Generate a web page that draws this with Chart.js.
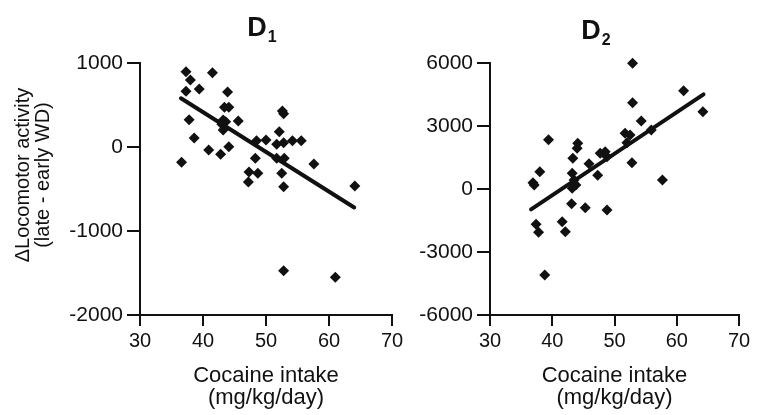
<!DOCTYPE html>
<html>
<head>
<meta charset="utf-8">
<script src="https://cdn.jsdelivr.net/npm/chart.js@4.4.1/dist/chart.umd.min.js"></script>
<style>
  body { margin: 0; background: #fff; }
  #wrap { position: relative; width: 757px; height: 415px; font-family: "Liberation Sans", Arial, sans-serif; color: #111; }
  .box { position: absolute; top: 0; height: 415px; }
  .title { position: absolute; top: 14px; width: 80px; margin-left: -40px; text-align: center; font-weight: bold; font-size: 27px; line-height: 1; }
  .title sub { font-size: 16px; vertical-align: baseline; position: relative; top: 6px; margin-left: 1px; }
  .ytitle { position: absolute; left: 12px; top: 175px; width: 0; height: 0; }
  .ytitle div { position: absolute; transform: translate(-50%, -50%) rotate(-90deg); white-space: nowrap; font-size: 20px; line-height: 20px; text-align: center; }
</style>
</head>
<body>
<div id="wrap">
  <div class="box" style="left:0;width:410px"><canvas id="d1"></canvas></div>
  <div class="box" style="left:410px;width:347px"><canvas id="d2"></canvas></div>
  <div class="title" style="left:262px">D<sub>1</sub></div>
  <div class="title" style="left:596px;top:17px">D<sub>2</sub></div>
  <div class="ytitle" style="left:22px"><div>&Delta;Locomotor activity</div></div>
  <div class="ytitle" style="left:42px"><div>(late - early WD)</div></div>
</div>
<script>
const xTitle = ["Cocaine intake", "(mg/kg/day)"];

// D1 panel: cocaine intake (x) vs change in locomotor activity (y)
const d1Intake = [37.3, 38.0, 37.3, 39.4, 41.5, 43.9, 43.4, 44.1, 43.2, 43.6, 43.0, 43.2, 45.6, 37.8, 38.6, 36.6, 40.9, 42.8, 44.1,
  52.6, 52.8, 52.1, 48.5, 50.0, 51.7, 52.8, 54.2, 55.6, 48.3, 51.7, 52.9, 47.3, 48.7, 47.2, 52.5, 52.8, 57.6, 64.1, 52.8, 61.0];
const d1Activity = [896, 798, 663, 690, 885, 655, 473, 473, 320, 300, 270, 202, 310, 325, 107, -182, -36, -87, 4,
  430, 395, 182, 75, 83, 32, 51, 75, 75, -135, -135, -135, -298, -313, -417, -313, -473, -202, -464, -1473, -1551];
const d1FitX = [36.5, 64];
const d1FitY = [580, -720];
const d1Ticks = [-2000, -1000, 0, 1000];

// D2 panel
const d2Intake = [52.9, 61.1, 52.9, 64.2, 54.3, 55.9, 51.7, 52.5, 52.0, 52.8, 39.4, 44.1, 44.0, 43.3, 47.7, 48.5, 48.8, 45.9,
  47.3, 38.0, 36.9, 37.1, 43.2, 43.5, 43.8, 43.2, 43.1, 45.3, 48.8, 37.4, 37.8, 41.6, 42.1, 38.8, 57.7];
const d2Activity = [5986, 4681, 4110, 3681, 3238, 2810, 2652, 2571, 2200, 1252, 2350, 2176, 1938, 1462, 1700, 1776, 1538, 1200,
  650, 824, 300, 190, 748, 429, 190, 33, -700, -890, -1000, -1681, -2062, -1557, -2033, -4095, 429];
const d2FitX = [36.6, 64.3];
const d2FitY = [-967, 4510];
const d2Ticks = [-6000, -3000, 0, 3000, 6000];

const xTicks = [30, 40, 50, 60, 70];

function toPoints(xs, ys) {
  return xs.map((x, i) => ({ x, y: ys[i] }));
}

function makeChart(id, xs, ys, fitX, fitY, yTicks, yWidth) {
  const ink = '#111';
  return new Chart(document.getElementById(id), {
    type: 'scatter',
    data: {
      datasets: [{
        data: toPoints(xs, ys),
        pointStyle: 'rectRot',
        pointRadius: 5.5,
        backgroundColor: ink,
        borderColor: ink,
        borderWidth: 0,
        clip: false
      }, {
        type: 'line',
        data: toPoints(fitX, fitY),
        showLine: true,
        borderColor: ink,
        borderWidth: 4,
        borderCapStyle: 'round',
        pointRadius: 0,
        clip: false
      }]
    },
    options: {
      animation: false,
      responsive: true,
      maintainAspectRatio: false,
      layout: { padding: { left: 0, top: 63, right: 18, bottom: 0 } },
      plugins: {
        legend: { display: false },
        tooltip: { enabled: false }
      },
      scales: {
        x: {
          type: 'linear',
          min: xTicks[0],
          max: xTicks[xTicks.length - 1],
          afterBuildTicks: scale => { scale.ticks = xTicks.map(v => ({ value: v })); },
          afterFit: scale => { scale.height = 100; },
          ticks: { color: ink, font: { family: 'Liberation Sans', size: 20 }, padding: 3, callback: v => String(v) },
          grid: { drawOnChartArea: false, color: ink, lineWidth: 2, tickLength: 11 },
          border: { display: true, color: ink, width: 2 },
          title: {
            display: true,
            text: xTitle,
            color: ink,
            font: { family: 'Liberation Sans', size: 22, lineHeight: 1.0 },
            padding: { top: 0, bottom: 6 }
          }
        },
        y: {
          type: 'linear',
          min: yTicks[0],
          max: yTicks[yTicks.length - 1],
          afterBuildTicks: scale => { scale.ticks = yTicks.map(v => ({ value: v })); },
          afterFit: scale => { scale.width = yWidth; },
          ticks: { color: ink, font: { family: 'Liberation Sans', size: 21 }, padding: 4, callback: v => String(v) },
          grid: { drawOnChartArea: false, color: ink, lineWidth: 2, tickLength: 13 },
          border: { display: true, color: ink, width: 2 }
        }
      }
    }
  });
}

makeChart('d1', d1Intake, d1Activity, d1FitX, d1FitY, d1Ticks, 140);
makeChart('d2', d2Intake, d2Activity, d2FitX, d2FitY, d2Ticks, 80);
</script>
</body>
</html>
